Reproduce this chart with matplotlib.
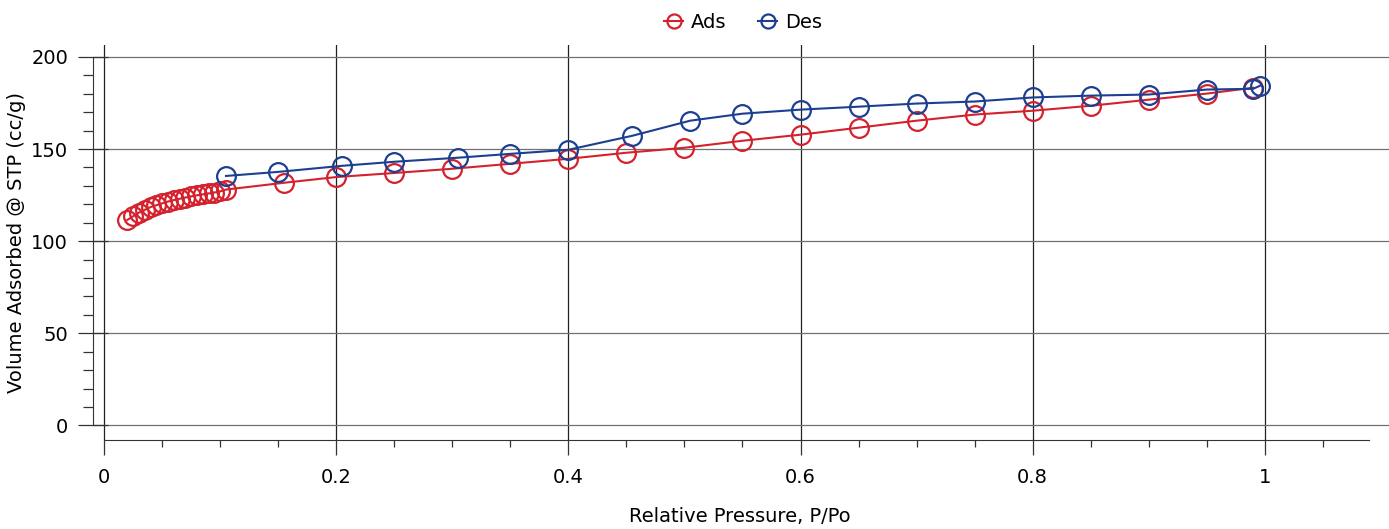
import numpy as np
import matplotlib.pyplot as plt
from matplotlib.ticker import MultipleLocator, FixedLocator

# adsorption branch (P/Po, cc/g STP)
ads_p = [0.020, 0.025, 0.030, 0.035, 0.040, 0.045, 0.050, 0.055, 0.060,
         0.065, 0.070, 0.075, 0.080, 0.085, 0.090, 0.095, 0.100, 0.105,
         0.155, 0.200, 0.250, 0.300, 0.350, 0.400, 0.450, 0.500, 0.550,
         0.600, 0.650, 0.700, 0.750, 0.800, 0.850, 0.900, 0.950, 0.990]
ads_v = [111.5, 113.5, 115.5, 117.0, 118.5, 119.5, 120.5, 121.5, 122.3,
         123.0, 123.7, 124.3, 124.9, 125.4, 125.9, 126.4, 127.0, 128.0,
         131.7, 134.8, 137.0, 139.3, 142.0, 144.7, 148.0, 150.7, 154.5,
         157.8, 161.6, 165.4, 168.7, 170.8, 173.5, 176.8, 180.1, 183.3]

# desorption branch
des_p = [0.996, 0.990, 0.950, 0.900, 0.850, 0.800, 0.750, 0.700, 0.650,
         0.600, 0.550, 0.505, 0.455, 0.400, 0.350, 0.305, 0.250, 0.205,
         0.150, 0.105]
des_v = [184.4, 182.7, 182.3, 179.6, 179.0, 178.0, 175.8, 174.7, 173.0,
         171.4, 169.2, 165.4, 157.2, 149.6, 147.4, 145.3, 143.1, 140.9,
         137.6, 135.4]

red = '#d3222e'
blue = '#1c3f92'

fig = plt.figure(figsize=(13.89, 5.29), dpi=100)
ax = fig.add_axes([0.067, 0.168, 0.933, 0.747])

ax.plot(ads_p, ads_v, color=red, lw=1.5, marker='o', ms=13.5, mfc='none',
        mec=red, mew=1.6, label='Ads')
ax.plot(des_p, des_v, color=blue, lw=1.5, marker='o', ms=13.5, mfc='none',
        mec=blue, mew=1.6, label='Des')

ax.set_xlim(-0.0095, 1.107)
ax.set_ylim(-8, 206.5)

ax.set_xticks(np.arange(0, 1.01, 0.2))
ax.set_xticklabels(['0', '0.2', '0.4', '0.6', '0.8', '1'])
ax.xaxis.set_minor_locator(FixedLocator(np.arange(0, 1.06, 0.05)))
ax.yaxis.set_major_locator(MultipleLocator(50))
ax.yaxis.set_minor_locator(FixedLocator(np.arange(0, 201, 10)))

ax.grid(axis='x', which='major', color='#222222', lw=0.9)
ax.grid(axis='y', which='major', color='#707070', lw=0.9)
ax.set_axisbelow(True)

for s in ['top', 'right']:
    ax.spines[s].set_visible(False)
ax.spines['left'].set_bounds(0, 200)
ax.spines['bottom'].set_bounds(0, 1.09)
ax.spines['left'].set_color('#333333')
ax.spines['bottom'].set_color('#333333')

ax.tick_params(axis='y', which='major', direction='inout', length=22,
               width=0.9, pad=7, labelsize=14, color='#333333')
ax.tick_params(axis='y', which='minor', direction='out', length=7,
               width=0.9, color='#333333')
ax.tick_params(axis='x', which='major', direction='out', length=11,
               width=0.9, pad=9, labelsize=14, color='#333333')
ax.tick_params(axis='x', which='minor', direction='out', length=5,
               width=0.9, color='#333333')

ax.set_ylabel('Volume Adsorbed @ STP (cc/g)', fontsize=14)
ax.yaxis.set_label_coords(-0.052, 0.5)
ax.set_xlabel('Relative Pressure, P/Po', fontsize=14)
ax.xaxis.set_label_coords(0.499, -0.17)

fig.legend(loc='center', bbox_to_anchor=(743 / 1389, 1 - 22 / 529), ncol=2,
           frameon=False, fontsize=14, handlelength=1.0, markerscale=0.75,
           columnspacing=1.6, handletextpad=0.4)

plt.savefig('out.png', dpi=100)
